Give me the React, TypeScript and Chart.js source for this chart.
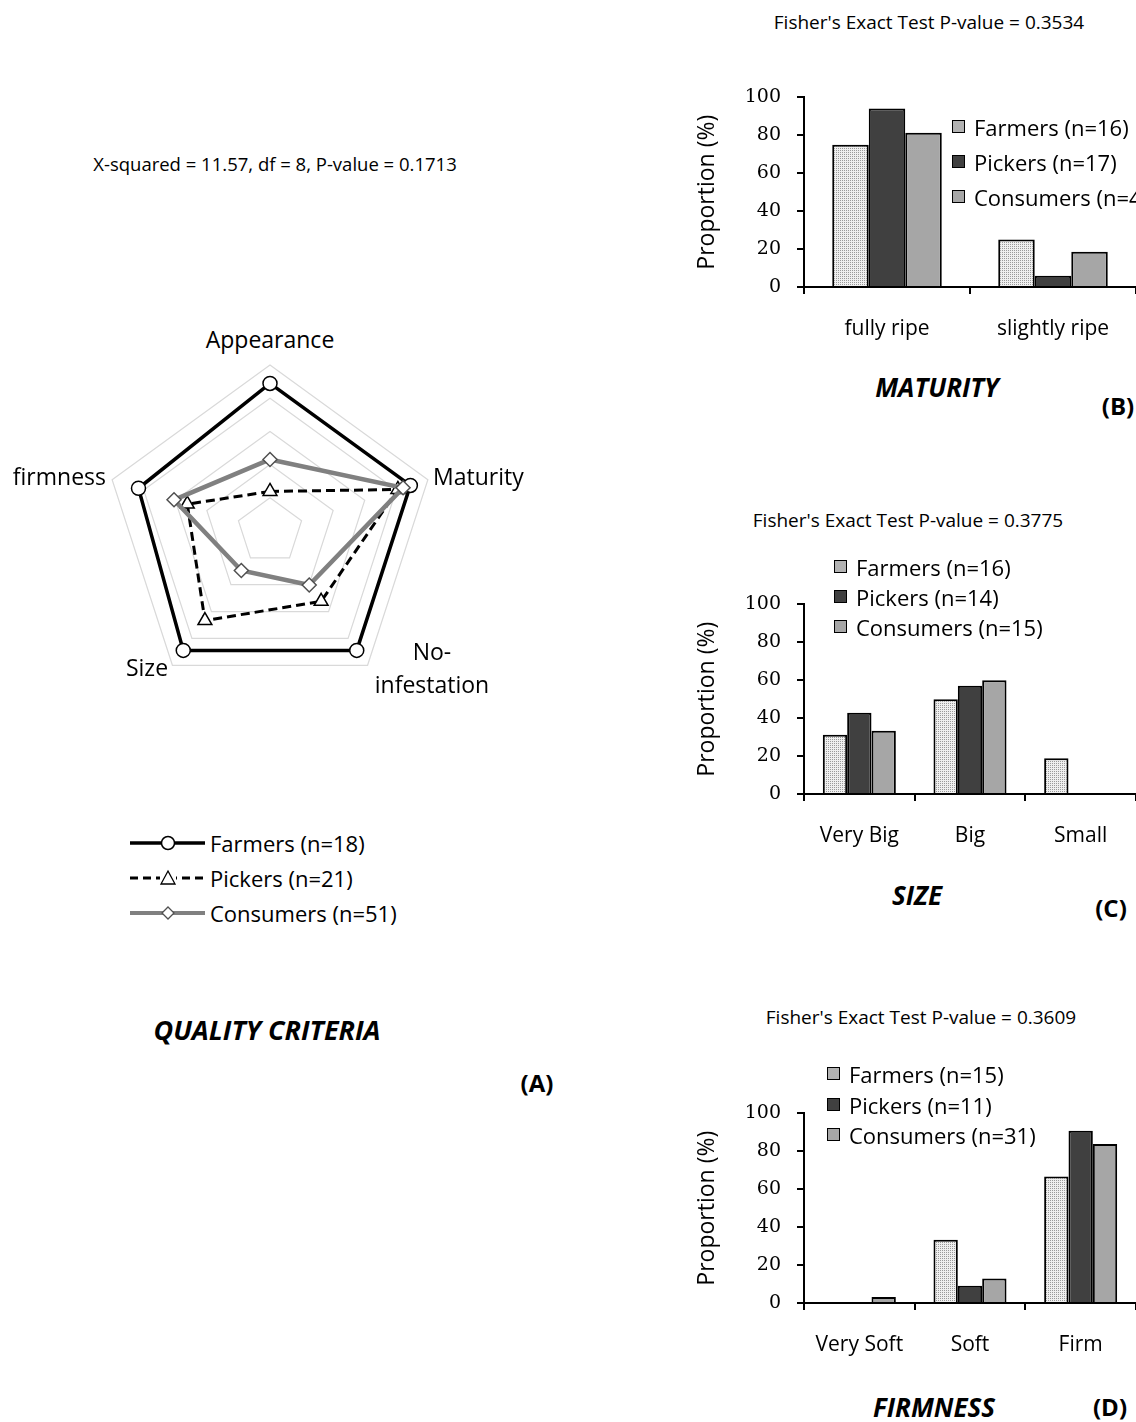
import React, { useEffect, useRef } from "react";
import { Chart, registerables } from "chart.js";
Chart.register(...registerables);

const FONT = "'Open Sans', sans-serif";
const TICK_FONT = "'DejaVu Serif', serif";

// ---------- Panel A: radar (proportion of respondents, %) ----------
const radarCriteria = ["Appearance", "Maturity", "No-infestation", "Size", "firmness"];
const radarFarmers = [88.9, 88.9, 88.9, 88.9, 83.3];
const radarPickers = [23.8, 81.0, 52.4, 66.7, 52.4];
const radarConsumers = [43.1, 84.3, 40.2, 29.4, 60.8];
const radarLegend = ["Farmers (n=18)", "Pickers (n=21)", "Consumers (n=51)"];
const radarTicks = [0, 20, 40, 60, 80, 100];

// ---------- Panel B: maturity ----------
const maturityCats = ["fully ripe", "slightly ripe"];
const maturityFarmers = [75.0, 25.0];
const maturityPickers = [94.1, 5.9];
const maturityConsumers = [81.4, 18.6];
const maturityLegend = ["Farmers (n=16)", "Pickers (n=17)", "Consumers (n=43)"];

// ---------- Panel C: size ----------
const sizeCats = ["Very Big", "Big", "Small"];
const sizeFarmers = [31.3, 50.0, 18.8];
const sizePickers = [42.9, 57.1, 0];
const sizeConsumers = [33.3, 60.0, 0];
const sizeLegend = ["Farmers (n=16)", "Pickers (n=14)", "Consumers (n=15)"];

// ---------- Panel D: firmness ----------
const firmCats = ["Very Soft", "Soft", "Firm"];
const firmFarmers = [0, 33.3, 66.7];
const firmPickers = [0, 9.1, 90.9];
const firmConsumers = [3.2, 12.9, 83.9];
const firmLegend = ["Farmers (n=15)", "Pickers (n=11)", "Consumers (n=31)"];

const yTicks = [0, 20, 40, 60, 80, 100];

const PICKER_COLOR = "#404040";
const CONSUMER_COLOR = "#a6a6a6";

function makePattern(): CanvasPattern | string {
  const pc = document.createElement("canvas");
  pc.width = 2;
  pc.height = 2;
  const g = pc.getContext("2d");
  if (!g) return "#d8d8d8";
  g.fillStyle = "#efefef";
  g.fillRect(0, 0, 2, 2);
  g.fillStyle = "#9a9a9a";
  g.fillRect(0, 0, 1, 1);
  const p = g.createPattern(pc, "repeat");
  return p || "#d8d8d8";
}

type TProps = {
  x: number;
  y: number;
  anchor?: "center" | "left" | "right";
  size?: number;
  bold?: boolean;
  italic?: boolean;
  children: React.ReactNode;
};

function T({ x, y, anchor = "center", size = 16, bold, italic, children }: TProps) {
  const tx = anchor === "center" ? "-50%" : anchor === "right" ? "-100%" : "0";
  return (
    <div
      style={{
        position: "absolute",
        left: x,
        top: y,
        transform: `translate(${tx}, -50%)`,
        whiteSpace: "nowrap",
        lineHeight: 1.1,
        fontSize: size,
        fontWeight: bold ? 700 : 400,
        fontStyle: italic ? "italic" : "normal",
        color: "#000",
        fontFamily: FONT,
      }}
    >
      {children}
    </div>
  );
}

function RadarPanel() {
  const ref = useRef<HTMLCanvasElement>(null);
  useEffect(() => {
    if (!ref.current) return;
    const chart = new Chart(ref.current, {
      type: "radar",
      data: {
        labels: radarCriteria,
        datasets: [
          {
            label: radarLegend[0],
            data: radarFarmers,
            borderColor: "#000",
            borderWidth: 3.5,
            pointStyle: "circle",
            pointRadius: 7,
            pointBackgroundColor: "#fff",
            pointBorderColor: "#000",
            pointBorderWidth: 1.5,
            fill: false,
            order: 2,
          },
          {
            label: radarLegend[1],
            data: radarPickers,
            borderColor: "#000",
            borderWidth: 3,
            borderDash: [9, 5],
            pointStyle: "triangle",
            pointRadius: 8,
            pointBackgroundColor: "#fff",
            pointBorderColor: "#000",
            pointBorderWidth: 1.5,
            fill: false,
            order: 1,
          },
          {
            label: radarLegend[2],
            data: radarConsumers,
            borderColor: "#808080",
            borderWidth: 4.5,
            pointStyle: "rectRot",
            pointRadius: 7,
            pointBackgroundColor: "#fff",
            pointBorderColor: "#505050",
            pointBorderWidth: 1.5,
            fill: false,
            order: 0,
          },
        ],
      },
      options: {
        animation: false,
        responsive: false,
        maintainAspectRatio: false,
        layout: { padding: 4 },
        elements: { line: { tension: 0 } },
        plugins: { legend: { display: false }, tooltip: { enabled: false } },
        scales: {
          r: {
            min: 0,
            max: 100,
            afterBuildTicks: (s: any) => {
              s.ticks = radarTicks.map((v) => ({ value: v }));
            },
            ticks: { display: false },
            grid: { color: "#d9d9d9", lineWidth: 1.2 },
            angleLines: { display: false },
            pointLabels: { display: false },
          },
        },
      } as any,
    });
    return () => chart.destroy();
  }, []);
  return (
    <canvas
      ref={ref}
      width={340}
      height={340}
      style={{ position: "absolute", left: 100, top: 361, width: 340, height: 340 }}
    />
  );
}

function LegendLine({ y, kind }: { y: number; kind: number }) {
  return (
    <svg
      width={80}
      height={20}
      style={{ position: "absolute", left: 128, top: y - 10 }}
    >
      {kind === 0 && (
        <>
          <line x1={2} y1={10} x2={77} y2={10} stroke="#000" strokeWidth={3.5} />
          <circle cx={40} cy={10} r={6.5} fill="#fff" stroke="#000" strokeWidth={1.5} />
        </>
      )}
      {kind === 1 && (
        <>
          <line x1={2} y1={10} x2={77} y2={10} stroke="#000" strokeWidth={3} strokeDasharray="8 5" />
          <rect x={32} y={2} width={16} height={16} fill="#fff" />
          <polygon points="40,3 47,16 33,16" fill="#fff" stroke="#000" strokeWidth={1.3} />
        </>
      )}
      {kind === 2 && (
        <>
          <line x1={2} y1={10} x2={77} y2={10} stroke="#808080" strokeWidth={4} />
          <polygon points="40,4 46,10 40,16 34,10" fill="#fff" stroke="#505050" strokeWidth={1.3} />
        </>
      )}
    </svg>
  );
}

type BarProps = {
  top: number;
  cats: string[];
  farmers: number[];
  pickers: number[];
  consumers: number[];
  legend: string[];
};

function BarPanel({ top, cats, farmers, pickers, consumers, legend }: BarProps) {
  const ref = useRef<HTMLCanvasElement>(null);
  useEffect(() => {
    if (!ref.current) return;
    const pattern = makePattern();
    const common = {
      borderColor: "#000",
      borderWidth: 2,
      categoryPercentage: 0.66,
      barPercentage: 1.0,
    };
    const chart = new Chart(ref.current, {
      type: "bar",
      data: {
        labels: cats,
        datasets: [
          { label: legend[0], data: farmers, backgroundColor: pattern as any, ...common },
          { label: legend[1], data: pickers, backgroundColor: PICKER_COLOR, ...common },
          { label: legend[2], data: consumers, backgroundColor: CONSUMER_COLOR, ...common },
        ],
      },
      options: {
        animation: false,
        responsive: false,
        maintainAspectRatio: false,
        layout: { padding: { top: 3, right: 14, left: 0, bottom: 0 } },
        plugins: { legend: { display: false }, tooltip: { enabled: false } },
        scales: {
          x: {
            afterFit: (s: any) => {
              s.height = 60;
            },
            grid: {
              offset: true,
              drawOnChartArea: false,
              drawTicks: true,
              tickLength: 7,
              color: "#000",
              lineWidth: 2,
            },
            border: { color: "#000", width: 2 },
            ticks: { font: { family: FONT, size: 21 }, color: "#000", padding: 22 },
          },
          y: {
            min: 0,
            max: 100,
            afterFit: (s: any) => {
              s.width = 114;
            },
            afterBuildTicks: (s: any) => {
              s.ticks = yTicks.map((v) => ({ value: v }));
            },
            grid: {
              drawOnChartArea: false,
              drawTicks: true,
              tickLength: 7,
              color: "#000",
              lineWidth: 2,
            },
            border: { color: "#000", width: 2 },
            ticks: { font: { family: TICK_FONT, size: 19 }, color: "#000", padding: 16 },
            title: {
              display: true,
              text: "Proportion (%)",
              font: { family: FONT, size: 23, lineHeight: 1.2 },
              color: "#000",
              padding: { top: 4, bottom: 0 },
            },
          },
        },
      } as any,
    });
    return () => chart.destroy();
  }, []);
  return (
    <canvas
      ref={ref}
      width={460}
      height={277}
      style={{ position: "absolute", left: 690, top: top - 10, width: 460, height: 277 }}
    />
  );
}

function BarLegend({ x, y, gap, labels }: { x: number; y: number; gap: number; labels: string[] }) {
  const fills = [
    {
      backgroundColor: "#e4e4e4",
      backgroundImage: "radial-gradient(#7a7a7a 0.6px, transparent 0.8px)",
      backgroundSize: "2px 2px",
    },
    { backgroundColor: PICKER_COLOR },
    { backgroundColor: CONSUMER_COLOR },
  ];
  return (
    <>
      {labels.map((l, i) => (
        <React.Fragment key={i}>
          <div
            style={{
              position: "absolute",
              left: x,
              top: y + i * gap - 7,
              width: 11,
              height: 11,
              border: "1.5px solid #000",
              ...fills[i],
            }}
          />
          <T x={x + 22} y={y + i * gap} anchor="left" size={22}>
            {l}
          </T>
        </React.Fragment>
      ))}
    </>
  );
}

export default function App() {
  return (
    <div
      style={{
        position: "fixed",
        left: 0,
        top: 0,
        width: 1136,
        height: 1422,
        overflow: "hidden",
        background: "#fff",
        fontFamily: FONT,
      }}
    >
      {/* Panel A */}
      <T x={275} y={164} size={18.5}>X-squared = 11.57, df = 8, P-value = 0.1713</T>
      <RadarPanel />
      <T x={270} y={340} size={23}>{radarCriteria[0]}</T>
      <T x={433} y={477} anchor="left" size={23}>{radarCriteria[1]}</T>
      <T x={432} y={652} size={23}>No-</T>
      <T x={432} y={685} size={23}>infestation</T>
      <T x={147} y={668} size={23}>{radarCriteria[3]}</T>
      <T x={106} y={477} anchor="right" size={23}>{radarCriteria[4]}</T>

      {radarLegend.map((l, i) => (
        <React.Fragment key={i}>
          <LegendLine y={843 + i * 35} kind={i} />
          <T x={210} y={843 + i * 35} anchor="left" size={22}>{l}</T>
        </React.Fragment>
      ))}
      <T x={267} y={1030} size={27} bold italic>QUALITY CRITERIA</T>
      <T x={537} y={1083} size={24} bold>(A)</T>

      {/* Panel B */}
      <T x={929} y={22} size={19}>Fisher's Exact Test P-value = 0.3534</T>
      <BarPanel top={80} cats={maturityCats} farmers={maturityFarmers} pickers={maturityPickers} consumers={maturityConsumers} legend={maturityLegend} />
      <BarLegend x={952} y={127} gap={35} labels={maturityLegend} />
      <T x={937} y={387} size={26} bold italic>MATURITY</T>
      <T x={1118} y={406} size={24} bold>(B)</T>

      {/* Panel C */}
      <T x={908} y={520} size={19}>Fisher's Exact Test P-value = 0.3775</T>
      <BarPanel top={587} cats={sizeCats} farmers={sizeFarmers} pickers={sizePickers} consumers={sizeConsumers} legend={sizeLegend} />
      <BarLegend x={834} y={567} gap={30} labels={sizeLegend} />
      <T x={917} y={895} size={26} bold italic>SIZE</T>
      <T x={1111} y={908} size={24} bold>(C)</T>

      {/* Panel D */}
      <T x={921} y={1017} size={19}>Fisher's Exact Test P-value = 0.3609</T>
      <BarPanel top={1096} cats={firmCats} farmers={firmFarmers} pickers={firmPickers} consumers={firmConsumers} legend={firmLegend} />
      <BarLegend x={827} y={1074} gap={30.5} labels={firmLegend} />
      <T x={934} y={1407} size={26} bold italic>FIRMNESS</T>
      <T x={1110} y={1407} size={24} bold>(D)</T>
    </div>
  );
}
